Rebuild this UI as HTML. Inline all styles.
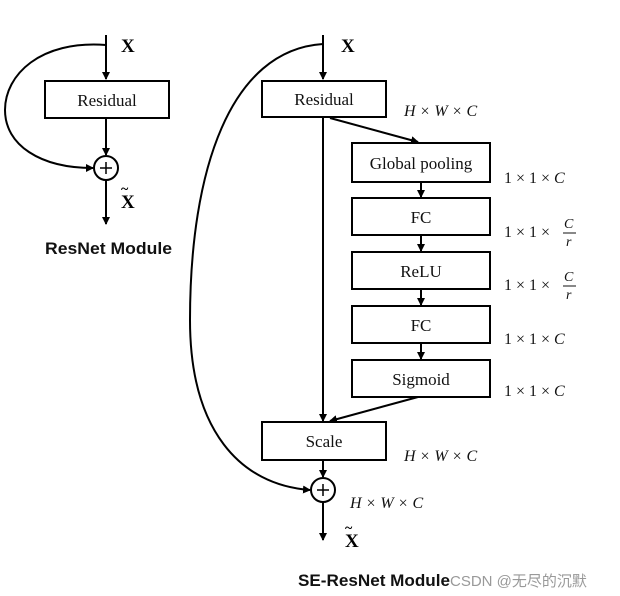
<!DOCTYPE html>
<html><head><style>body{margin:0;background:#fff}svg{display:block}</style></head><body>
<svg width="620" height="596" viewBox="0 0 620 596" xmlns="http://www.w3.org/2000/svg" font-family="Liberation Serif, serif">
<defs><marker id="a" markerWidth="8" markerHeight="8" refX="7" refY="4" orient="auto" markerUnits="userSpaceOnUse"><path d="M0,0 L8,4 L0,8 z" fill="#000"/></marker></defs>
<g stroke="#000" stroke-width="2" fill="none">
<line x1="106" y1="35" x2="106" y2="79" marker-end="url(#a)"/>
<rect x="45" y="81" width="124" height="37" fill="#fff"/>
<line x1="106" y1="118" x2="106" y2="155" marker-end="url(#a)"/>
<circle cx="106" cy="168" r="12"/>
<line x1="106" y1="180" x2="106" y2="224" marker-end="url(#a)"/>
<path d="M106,45 C40,40 5,75 5,110 C5,145 40,168 93,168" marker-end="url(#a)"/>
<line x1="323" y1="35" x2="323" y2="79" marker-end="url(#a)"/>
<rect x="262" y="81" width="124" height="36" fill="#fff"/>
<line x1="323" y1="117" x2="323" y2="421" marker-end="url(#a)"/>
<line x1="330" y1="118" x2="418" y2="142" marker-end="url(#a)"/>
<rect x="352" y="143" width="138" height="39" fill="#fff"/>
<line x1="421" y1="182" x2="421" y2="197" marker-end="url(#a)"/>
<rect x="352" y="198" width="138" height="37" fill="#fff"/>
<line x1="421" y1="235" x2="421" y2="251" marker-end="url(#a)"/>
<rect x="352" y="252" width="138" height="37" fill="#fff"/>
<line x1="421" y1="289" x2="421" y2="305" marker-end="url(#a)"/>
<rect x="352" y="306" width="138" height="37" fill="#fff"/>
<line x1="421" y1="343" x2="421" y2="359" marker-end="url(#a)"/>
<rect x="352" y="360" width="138" height="37" fill="#fff"/>
<line x1="418" y1="397" x2="330" y2="421" marker-end="url(#a)"/>
<rect x="262" y="422" width="124" height="38" fill="#fff"/>
<line x1="323" y1="460" x2="323" y2="477" marker-end="url(#a)"/>
<circle cx="323" cy="490" r="12"/>
<line x1="323" y1="502" x2="323" y2="540" marker-end="url(#a)"/>
<path d="M323,44 C230,50 190,170 190,320 C190,430 240,485 310,490" marker-end="url(#a)"/>
</g>
<g stroke="#000" stroke-width="1.5"><line x1="100" y1="168" x2="112" y2="168"/><line x1="106" y1="162" x2="106" y2="174"/><line x1="317" y1="490" x2="329" y2="490"/><line x1="323" y1="484" x2="323" y2="496"/></g>
<g font-size="17" text-anchor="middle" fill="#111">
<text x="107" y="106">Residual</text><text x="324" y="105">Residual</text>
<text x="421" y="169">Global pooling</text><text x="421" y="223">FC</text>
<text x="421" y="277">ReLU</text><text x="421" y="331">FC</text>
<text x="421" y="385">Sigmoid</text><text x="324" y="447">Scale</text>
</g>
<g font-size="19" font-weight="bold">
<text x="121" y="52">X</text><text x="121" y="208">X</text><text x="121" y="193" font-size="14">~</text>
<text x="341" y="52">X</text><text x="345" y="547">X</text><text x="345" y="532" font-size="14">~</text>
</g>
<g font-size="16" font-style="italic" fill="#111">
<text x="404" y="116">H × W × C</text>
<text x="504" y="183"><tspan font-style="normal">1 × 1 ×</tspan> C</text>
<text x="504" y="237"><tspan font-style="normal">1 × 1 ×</tspan></text>
<text x="564" y="228" font-size="14">C</text><line x1="563" y1="233" x2="576" y2="233" stroke="#111"/><text x="566" y="246" font-size="14">r</text>
<text x="504" y="290"><tspan font-style="normal">1 × 1 ×</tspan></text>
<text x="564" y="281" font-size="14">C</text><line x1="563" y1="286" x2="576" y2="286" stroke="#111"/><text x="566" y="299" font-size="14">r</text>
<text x="504" y="344"><tspan font-style="normal">1 × 1 ×</tspan> C</text>
<text x="504" y="396"><tspan font-style="normal">1 × 1 ×</tspan> C</text>
<text x="404" y="461">H × W × C</text>
<text x="350" y="508">H × W × C</text>
</g>
<g font-family="Liberation Sans, sans-serif" font-weight="bold" font-size="17" fill="#111">
<text x="45" y="254" textLength="127" lengthAdjust="spacingAndGlyphs">ResNet Module</text>
<text x="298" y="586" textLength="152" lengthAdjust="spacingAndGlyphs">SE-ResNet Module</text>
</g>
<text x="450" y="586" font-family="Liberation Sans, Noto Sans CJK SC, sans-serif" font-size="15" fill="#999">CSDN @无尽的沉默</text>
</svg>
</body></html>
